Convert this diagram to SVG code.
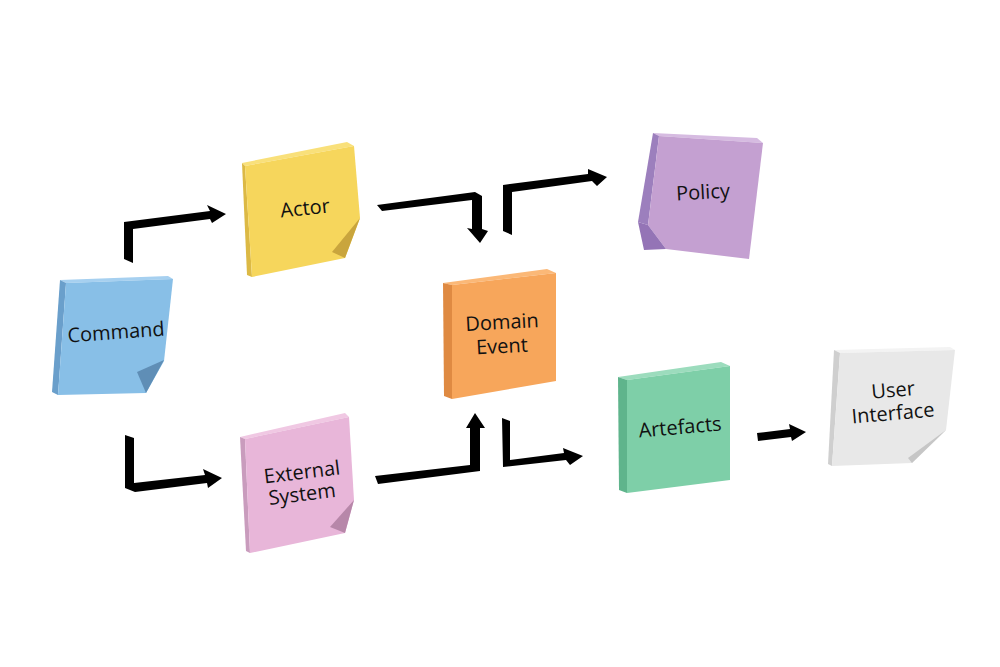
<svg xmlns="http://www.w3.org/2000/svg" width="1000" height="667" viewBox="0 0 1000 667">
  <style>
    .lbl { font-family: "Open Sans", "Liberation Sans", sans-serif; font-size: 20px; fill: #111; text-anchor: middle; }
    .arrow { fill: #000; }
  </style>
  <rect width="1000" height="667" fill="#ffffff"/>

  <g id="connectors">
    <polygon class="arrow" points="124,222 210,211 207,205 226,214 212,223 210,219 133,229 133,263 124,259"/>
    <polygon class="arrow" points="125,435 134,438 134,483 205,475 203,469 222,478 208,488 207,483 135,492 125,488"/>
    <polygon class="arrow" points="377,205 475,192 482,196 482,229 488,231 480,243 467,228 472,229 472,200 382,211"/>
    <polygon class="arrow" points="503,185 588,174 588,169 607,177 597,186 592,181 512,192 512,235 503,231"/>
    <polygon class="arrow" points="375,476 470,465 470,428 466,428 475,413 485,428 480,428 480,471 378,484"/>
    <polygon class="arrow" points="502,418 510,421 510,460 564,453 563,448 583,456 570,465 566,460 503,467"/>
    <polygon class="arrow" points="757,433 790,429 789,424 806,432 792,441 791,437 758,441"/>
  </g>

  <g id="command">
    <polygon points="60,280 168,276 173,279 66,283" fill="#a6d0f0"/>
    <polygon points="60,280 66,283 58,395 52,392" fill="#6a9fcb"/>
    <polygon points="66,283 173,279 164,361 146,393 58,395" fill="#88bfe7"/>
    <polygon points="137,372 164,360 146,393" fill="#5f8eb6"/>
    <text class="lbl" x="116" y="339" transform="rotate(-4 116 332)">Command</text>
  </g>

  <g id="actor">
    <polygon points="242,163 347,142 354,146 245,166" fill="#f9e07a"/>
    <polygon points="242,163 245,166 252,277 247,275" fill="#dcb945"/>
    <polygon points="245,166 354,146 360,218 345,258 252,277" fill="#f6d65c"/>
    <polygon points="332,252 360,218 345,258" fill="#c9a53d"/>
    <text class="lbl" x="305" y="215" transform="rotate(-6 305 208)">Actor</text>
  </g>

  <g id="domain-event">
    <polygon points="443,283 547,269 556,273 452,285" fill="#fbb877"/>
    <polygon points="443,283 452,285 452,399 444,396" fill="#df8a42"/>
    <polygon points="452,285 556,273 556,381 452,399" fill="#f7a65b"/>
    <text class="lbl" x="502" y="329" transform="rotate(-3 502 322)">Domain</text>
    <text class="lbl" x="502" y="353" transform="rotate(-3 502 346)">Event</text>
  </g>

  <g id="external-system">
    <polygon points="240,437 345,413 349,417 245,439" fill="#f0c8e3"/>
    <polygon points="240,437 245,439 250,553 246,551" fill="#c99cbd"/>
    <polygon points="245,439 349,417 354,500 345,533 250,553" fill="#e8b6d9"/>
    <polygon points="330,527 354,500 345,533" fill="#b787a9"/>
    <text class="lbl" x="302" y="479" transform="rotate(-7 302 472)">External</text>
    <text class="lbl" x="302" y="501" transform="rotate(-7 302 494)">System</text>
  </g>

  <g id="policy">
    <polygon points="653,133 757,138 763,143 659,136" fill="#d6bbe1"/>
    <polygon points="653,133 659,136 648,225 638,222" fill="#9c7fbd"/>
    <polygon points="659,136 763,143 749,259 666,249 648,225" fill="#c4a0d1"/>
    <polygon points="638,222 648,225 666,249 644,250" fill="#9474b6"/>
    <text class="lbl" x="703" y="199" transform="rotate(-3 703 192)">Policy</text>
  </g>

  <g id="artefacts">
    <polygon points="618,377 721,362 730,366 627,380" fill="#9cdcbd"/>
    <polygon points="618,377 627,380 627,493 619,490" fill="#5fb48c"/>
    <polygon points="627,380 730,366 730,480 627,493" fill="#7ecfa8"/>
    <text class="lbl" x="680" y="434" transform="rotate(-5 680 427)">Artefacts</text>
  </g>

  <g id="user-interface">
    <polygon points="834,350 950,347 955,350 840,353" fill="#f3f3f3"/>
    <polygon points="834,350 840,353 832,466 828,464" fill="#cfcfcf"/>
    <polygon points="840,353 955,350 946,430 912,463 832,466" fill="#e8e8e8"/>
    <polygon points="908,458 946,430 912,463" fill="#c6c6c6"/>
    <text class="lbl" x="893" y="397" transform="rotate(-5 893 390)">User</text>
    <text class="lbl" x="893" y="420" transform="rotate(-5 893 413)">Interface</text>
  </g>
</svg>
